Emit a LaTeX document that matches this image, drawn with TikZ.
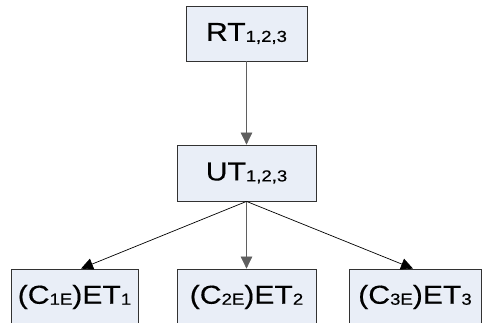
\documentclass[tikz,border=0pt]{standalone}
\usepackage{fontspec}
\setmainfont{Liberation Sans}
\newfontfamily\wf[FakeStretch=1.16,FakeBold=0.4]{Liberation Sans}
\usetikzlibrary{arrows.meta}
\definecolor{boxfill}{RGB}{233,238,247}
\definecolor{boxline}{RGB}{50,50,50}
\definecolor{vline}{RGB}{95,95,95}
\newcommand\sbs[1]{{\fontsize{16}{16}\selectfont\raisebox{-1pt}{#1}}}
\tikzset{
  tbox/.style={draw=boxline, fill=boxfill, line width=0.8pt, inner sep=0pt,
    font=\wf\fontsize{26}{28}\selectfont, text=black},
  conn/.style={line width=0.7pt, -{Triangle[length=12pt,width=11.5pt]}},
}
\begin{document}
\begin{tikzpicture}[x=1pt,y=-1pt]
\useasboundingbox (0,0) rectangle (484,322);
\clip (0,0) rectangle (484,322);
\node[tbox, minimum width=121pt, minimum height=55pt] (RT) at (246.5,33.5) {RT\sbs{1,2,3}};
\node[tbox, minimum width=139pt, minimum height=56pt] (UT) at (246.5,173) {UT\sbs{1,2,3}};
\node[tbox, minimum width=127pt, minimum height=56pt] (E1) at (74.5,297) {(C\sbs{1E})ET\sbs{1}};
\node[tbox, minimum width=139pt, minimum height=56pt] (E2) at (246.5,297) {(C\sbs{2E})ET\sbs{2}};
\node[tbox, minimum width=132pt, minimum height=56pt] (E3) at (415,297) {(C\sbs{3E})ET\sbs{3}};
\draw[conn, draw=vline, fill=black] (RT.south) -- (UT.north);
\draw[conn, draw=vline, fill=black] (UT.south) -- (E2.north);
\draw[conn, draw=black] (UT.south) -- ([xshift=6.5pt]E1.north);
\draw[conn, draw=black] (UT.south) -- ([xshift=-2pt]E3.north);
\end{tikzpicture}
\end{document}
